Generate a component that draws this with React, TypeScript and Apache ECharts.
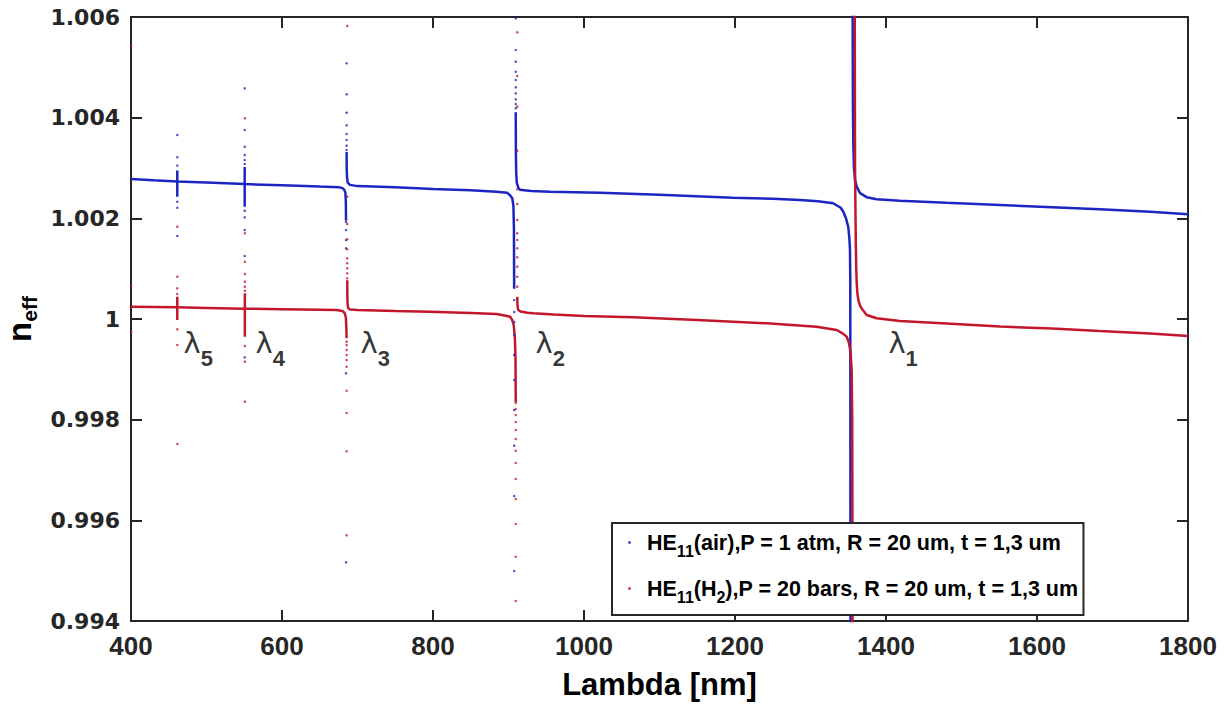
import React, { useEffect, useRef } from "react";
import * as echarts from "echarts";

// ---------- data ----------
const xMin = 400, xMax = 1800, xStep = 200;
const yMin = 0.994, yMax = 1.006, yStep = 0.002;

// HE11 (air) – continuous branches between resonances
const airBranch1: [number, number][] = [
  [400, 1.00278], [430, 1.002755], [461, 1.00273], [500, 1.00271], [551, 1.00268], [600, 1.002655],
  [650, 1.00263], [675, 1.00262], [680, 1.0026], [682.5, 1.00257], [684, 1.0025], [684.6, 1.0023], [684.8, 1.00195],
];
const airSpike5: [number, number][] = [[461.3, 1.00295], [461.3, 1.00243]];
const airSpike4: [number, number][] = [[550.6, 1.00302], [550.6, 1.00223]];
const airBranch2: [number, number][] = [
  [685.6, 1.00332], [685.7, 1.003], [686.1, 1.00282], [687, 1.00271], [690, 1.002665], [700, 1.00264],
  [750, 1.00262], [800, 1.002585], [850, 1.00256], [884, 1.00253], [898, 1.00251], [902, 1.00246],
  [905, 1.0024], [906.5, 1.00225], [907.2, 1.0018], [907.5, 1.0006],
];
const airBranch3: [number, number][] = [
  [909.6, 1.00411], [909.8, 1.0033], [910.2, 1.0029], [911, 1.00271], [913, 1.00261], [915, 1.00257],
  [930, 1.002545], [955, 1.00253], [1021, 1.00251], [1100, 1.00247], [1197, 1.00241], [1250, 1.00239],
  [1286, 1.002364], [1310, 1.00234], [1330, 1.0023], [1340, 1.00221], [1343.5, 1.00213], [1347, 1.002],
  [1350, 1.00183], [1351.5, 1.0016], [1352.3, 1.00137], [1352.7, 1.0008], [1353, 0.9935],
];
const airBranch4: [number, number][] = [
  [1355.8, 1.0062], [1356.2, 1.0042], [1356.8, 1.0034], [1357.6, 1.003], [1359, 1.00276], [1361.2, 1.00263],
  [1365.6, 1.0025], [1374.4, 1.00242], [1387.6, 1.00238], [1418.5, 1.00235], [1480, 1.00231],
  [1551, 1.002265], [1620, 1.00222], [1683, 1.00218], [1750, 1.00213], [1800, 1.00208],
];

// HE11 (air) – sparse dots near resonances: [lambda, values]
const airDotsL5: [number, number[]] = [461.3, [1.003656, 1.003213, 1.00305, 1.00233, 1.002211, 1.001649]];
const airDotsL4: [number, number[]] = [550.6, [1.004583, 1.003755, 1.003423, 1.003258, 1.003159, 1.003079, 1.002152, 1.00202, 1.001768, 1.001252, 0.999239]];
const airDotsL3Up: [number, number[]] = [685.6, [1.00508, 1.004464, 1.004099, 1.003848, 1.003675, 1.003556, 1.003443, 1.003358]];
const airDotsL3Down: [number, number[]] = [684.8, [1.001927, 1.001768, 1.001569, 1.001405, 0.998921, 0.995166]];
const airDotsL2Up: [number, number[]] = [909.6, [1.005974, 1.005344, 1.005112, 1.004913, 1.004748, 1.004603, 1.004484, 1.004365, 1.004272, 1.004186]];
const airDotsL2Down: [number, number[]] = [907.5, [1.000377, 1.000139, 0.99994, 0.999682, 0.999285, 0.998788, 0.998192, 0.997483, 0.996483, 0.994993]];

// HE11 (H2) – continuous branches
const h2Branch1: [number, number][] = [
  [400, 1.000244], [430, 1.000238], [461, 1.000232], [500, 1.00022], [551, 1.000205], [600, 1.000195],
  [650, 1.000185], [672, 1.000179], [680, 1.00016], [683, 1.00012], [684.6, 1.00003], [685.3, 0.9998], [685.6, 0.99962],
];
const h2Spike5: [number, number][] = [[461.3, 1.000443], [461.3, 0.99998]];
const h2Spike4: [number, number][] = [[550.8, 1.00051], [550.8, 0.999648]];
const h2Branch2: [number, number][] = [
  [686.4, 1.00077], [686.5, 1.0005], [686.8, 1.00032], [687.5, 1.00022], [690, 1.00019], [700, 1.000178],
  [750, 1.00016], [796, 1.000145], [850, 1.00012], [884, 1.000099], [898, 1.00006], [902, 1.000046],
  [905, 0.99998], [907, 0.99987], [908.5, 0.9996], [909.3, 0.9992], [909.6, 0.99835],
];
const h2Branch3: [number, number][] = [
  [911.6, 1.00044], [911.8, 1.0003], [912.3, 1.00022], [913, 1.000179], [916, 1.00015], [925, 1.000125],
  [933, 1.000113], [960, 1.00009], [1000, 1.00006], [1065, 1.000034], [1150, 0.99998], [1242, 0.999914],
  [1308, 0.999847], [1334.7, 0.999781], [1343, 0.99971], [1348, 0.999648], [1351, 0.99952], [1353, 0.99935],
  [1354.5, 0.999], [1355.3, 0.998], [1355.8, 0.9935],
];
const h2Branch4: [number, number][] = [
  [1358.6, 1.0062], [1359, 1.003], [1360, 1.0015], [1360.6, 1.001], [1361.2, 1.00071], [1362.2, 1.0005],
  [1363.3, 1.00038], [1365.5, 1.00027], [1367.7, 1.00021], [1374.4, 1.00008], [1387.6, 1.000014],
  [1418.5, 0.99996], [1480, 0.99991], [1551, 0.99985], [1620, 0.99981], [1683, 0.99976], [1750, 0.99971], [1800, 0.99966],
];

// HE11 (H2) – sparse dots
const h2DotsEdge: [number, number[]] = [400.5, [1.005424, 1.000656, 0.999742]];
const h2DotsL5: [number, number[]] = [461.3, [1.001834, 1.00084, 1.00061, 1.000497, 0.999795, 0.999483, 0.997516]];
const h2DotsL4: [number, number[]] = [550.8, [1.003987, 1.001703, 1.001138, 1.000894, 1.000741, 1.000642, 1.000562, 0.999463, 0.999152, 0.998357]];
const h2DotsL3Up: [number, number[]] = [686.4, [1.005821, 1.00243, 1.001887, 1.001583, 1.001385, 1.001206, 1.001107, 1.001007, 1.000908, 1.000809]];
const h2DotsL3Down: [number, number[]] = [685.6, [0.999549, 0.999483, 0.999384, 0.999285, 0.999185, 0.999052, 0.998575, 0.998132, 0.997371, 0.995702]];
const h2DotsL2Up: [number, number[]] = [911.6, [1.005696, 1.004828, 1.004218, 1.003344, 1.002577, 1.002285, 1.001967, 1.001703, 1.00157, 1.001405, 1.001226, 1.001039, 1.00084, 1.000642]];
const h2DotsL2Down: [number, number[]] = [909.6, [0.998331, 0.998212, 0.998093, 0.997954, 0.997795, 0.997616, 0.997383, 0.997139, 0.996821, 0.996424, 0.995927, 0.995277, 0.994397]];

// Resonance annotations
const annLambda = [1402.6, 935.1, 703.3, 564.2, 468.9];
const annN = [0.999523, 0.999523, 0.999523, 0.999523, 0.999523];
const annSub = ["1", "2", "3", "4", "5"];

// Legend texts
const legendNames = ["air", "h2"];
const legendTexts: Record<string, string> = {
  air: "{m|HE}{s|11}{m|(air),P = 1 atm, R = 20 um, t = 1,3 um}",
  h2: "{m|HE}{s|11}{m|(H}{s|2}{m|),P = 20 bars, R = 20 um, t = 1,3 um}",
};

// ---------- styling ----------
const BLUE = "#1b26c2";
const RED = "#c2172a";
const AX = "#262626";
const FONT = "Liberation Sans";

const expand = (g: [number, number[]]) => g[1].map((v) => [g[0], v]);

export default function App() {
  const ref = useRef<HTMLDivElement>(null);
  useEffect(() => {
    const chart = echarts.init(ref.current!, null, { renderer: "svg" });

    const lineSeries = (data: [number, number][], color: string, id: string) => ({
      type: "line",
      name: id,
      data,
      symbol: "none",
      showSymbol: false,
      smooth: false,
      silent: true,
      lineStyle: { color, width: 2.5 },
      itemStyle: { color },
      z: 2,
    });

    const airDots = [airDotsL5, airDotsL4, airDotsL3Up, airDotsL3Down, airDotsL2Up, airDotsL2Down].flatMap(expand);
    const h2Dots = [h2DotsEdge, h2DotsL5, h2DotsL4, h2DotsL3Up, h2DotsL3Down, h2DotsL2Up, h2DotsL2Down].flatMap(expand);

    const axisCommonX = {
      type: "value",
      min: xMin,
      max: xMax,
      interval: xStep,
      splitLine: { show: false },
      axisLine: { show: true, onZero: false, lineStyle: { color: AX, width: 2 } },
      axisTick: { show: true, inside: true, length: 11, lineStyle: { color: AX, width: 2 } },
    };
    const axisCommonY = {
      type: "value",
      min: yMin,
      max: yMax,
      interval: yStep,
      splitLine: { show: false },
      axisLine: { show: true, onZero: false, lineStyle: { color: AX, width: 2 } },
      axisTick: { show: true, inside: true, length: 11, lineStyle: { color: AX, width: 2 } },
    };

    const option: any = {
      animation: false,
      backgroundColor: "#ffffff",
      grid: { left: 131, right: 43, top: 17, bottom: 85, containLabel: false, outerBoundsMode: "none" },
      xAxis: [
        {
          ...axisCommonX,
          position: "bottom",
          axisLabel: {
            formatter: (v: number) => String(v),
            fontFamily: FONT,
            fontWeight: "bold",
            fontSize: 26,
            color: AX,
            margin: 12,
          },
          name: "Lambda [nm]",
          nameLocation: "middle",
          nameGap: 48,
          nameTextStyle: { fontFamily: FONT, fontWeight: "bold", fontSize: 31, color: "#000" },
        },
        { ...axisCommonX, position: "top", axisLabel: { show: false } },
      ],
      yAxis: [
        {
          ...axisCommonY,
          position: "left",
          axisLabel: {
            formatter: (v: number) => String(parseFloat(v.toFixed(3))),
            fontFamily: "DejaVu Sans",
            fontWeight: "bold",
            fontSize: 22,
            color: AX,
            margin: 11,
          },
          name: "{n|n}{s|eff}",
          nameLocation: "middle",
          nameRotate: 90,
          nameGap: 95,
          nameTextStyle: {
            color: "#000",
            rich: {
              n: { fontFamily: FONT, fontWeight: "bold", fontSize: 33, lineHeight: 33, color: "#000" },
              s: { fontFamily: FONT, fontWeight: "bold", fontSize: 21, lineHeight: 13, padding: [20, 0, 0, 0], color: "#000" },
            },
          },
        },
        { ...axisCommonY, position: "right", axisLabel: { show: false } },
      ],
      legend: {
        data: legendNames,
        orient: "vertical",
        left: 612,
        top: 523,
        padding: [3, 5, 10, 16],
        itemGap: 13,
        itemWidth: 3,
        itemHeight: 3,
        icon: "circle",
        backgroundColor: "#ffffff",
        borderColor: AX,
        borderWidth: 2,
        borderRadius: 0,
        formatter: (name: string) => legendTexts[name],
        textStyle: {
          padding: [0, 0, 0, 11],
          color: "#000",
          fontFamily: FONT,
          fontWeight: "bold",
          fontSize: 21.5,
          rich: {
            m: { fontFamily: FONT, fontWeight: "bold", fontSize: 21.5, lineHeight: 31, color: "#000" },
            s: { fontFamily: FONT, fontWeight: "bold", fontSize: 16, lineHeight: 16, padding: [17, 0, 0, 0], color: "#000" },
          },
        },
      },
      series: [
        ...[airBranch1, airSpike5, airSpike4, airBranch2, airBranch3, airBranch4].map((d, i) => lineSeries(d, BLUE, "airLine" + i)),
        {
          type: "scatter",
          name: "air",
          data: airDots,
          symbol: "circle",
          symbolSize: 2.5,
          itemStyle: { color: BLUE },
          silent: true,
          z: 3,
        },
        ...[h2Branch1, h2Spike5, h2Spike4, h2Branch2, h2Branch3, h2Branch4].map((d, i) => lineSeries(d, RED, "h2Line" + i)),
        {
          type: "scatter",
          name: "h2",
          data: h2Dots,
          symbol: "circle",
          symbolSize: 2.5,
          itemStyle: { color: RED },
          silent: true,
          z: 4,
        },
        {
          type: "scatter",
          name: "annotations",
          data: annLambda.map((x, i) => ({ value: [x, annN[i]], sub: annSub[i] })),
          symbolSize: 1,
          itemStyle: { color: "rgba(0,0,0,0)" },
          silent: true,
          z: 5,
          label: {
            show: true,
            position: "right",
            distance: 0,
            formatter: (p: any) => "{l|λ}{s|" + p.data.sub + "}",
            rich: {
              l: { fontFamily: "DejaVu Sans", fontSize: 29, lineHeight: 29, color: "#000" },
              s: { fontFamily: FONT, fontWeight: "bold", fontSize: 22, lineHeight: 20, padding: [30, 0, 0, 0], color: "#000" },
            },
          },
        },
      ],
    };

    chart.setOption(option);
    return () => chart.dispose();
  }, []);

  return (
    <div
      ref={ref}
      style={{ position: "fixed", left: 0, top: 0, width: 1231, height: 706, background: "#fff" }}
    />
  );
}
